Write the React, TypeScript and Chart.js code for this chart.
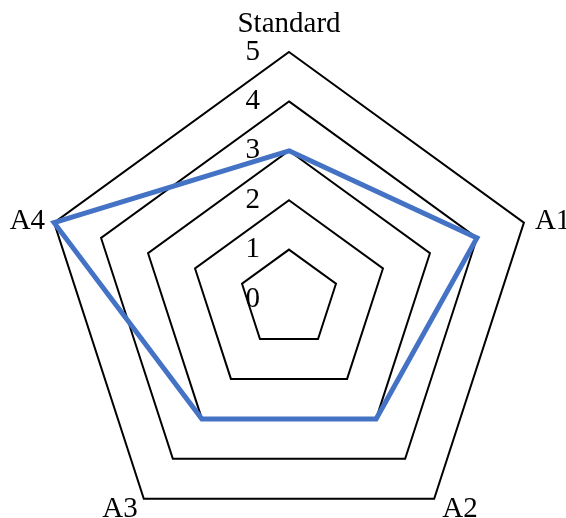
import React, { useEffect, useRef } from 'react';
import { Chart, registerables } from 'chart.js';

Chart.register(...registerables);

const categories = ['Standard', 'A1', 'A2', 'A3', 'A4'];
const seriesValues = [3, 4, 3, 3, 5];
const tickLabels = ['0', '1', '2', '3', '4', '5'];

const FONT = '"Liberation Serif", "Times New Roman", serif';
const FONT_SIZE = 29;

const tickLabelPlugin = {
  id: 'tickLabelsLeft',
  beforeDatasetsDraw(chart: any) {
    const s = chart.scales.r;
    const ctx = chart.ctx;
    ctx.save();
    ctx.font = `${FONT_SIZE}px ${FONT}`;
    ctx.fillStyle = '#000';
    ctx.textAlign = 'right';
    ctx.textBaseline = 'middle';
    s.ticks.forEach((t: any, i: number) => {
      const d = s.getDistanceFromCenterForValue(t.value);
      ctx.fillText(tickLabels[i] ?? t.label, s.xCenter - 29, s.yCenter - d);
    });
    ctx.restore();
  },
};

const pointLabelPlugin = {
  id: 'pointLabelsOuter',
  afterDraw(chart: any) {
    const s = chart.scales.r;
    const ctx = chart.ctx;
    const labels: string[] = chart.data.labels;
    ctx.save();
    ctx.font = `${FONT_SIZE}px ${FONT}`;
    ctx.fillStyle = '#000';
    ctx.textBaseline = 'alphabetic';
    labels.forEach((lab, i) => {
      const v = s.getPointPosition(i, s.drawingArea);
      let deg = (s.getIndexAngle(i) * 180) / Math.PI;
      deg = ((deg % 360) + 360) % 360;
      let x = v.x;
      let y = v.y;
      if (deg < 1 || deg > 359) {
        ctx.textAlign = 'center';
        y = v.y - 20;
      } else if (deg < 180) {
        ctx.textAlign = 'left';
        if (deg < 90) {
          x = v.x + 11;
          y = v.y + 6;
        } else {
          x = v.x + 8;
          y = v.y + 18;
        }
      } else {
        ctx.textAlign = 'right';
        if (deg > 270) {
          x = v.x - 9;
          y = v.y + 6;
        } else {
          x = v.x - 6;
          y = v.y + 18;
        }
      }
      ctx.fillText(lab, x, y);
    });
    ctx.restore();
  },
};

export default function App() {
  const ref = useRef<HTMLCanvasElement | null>(null);

  useEffect(() => {
    if (!ref.current) return;
    const chart = new Chart(ref.current, {
      type: 'radar',
      data: {
        labels: categories,
        datasets: [
          {
            data: seriesValues,
            borderColor: '#4472C4',
            borderWidth: 5,
            fill: false,
            pointRadius: 0,
            pointHoverRadius: 0,
            tension: 0,
            borderJoinStyle: 'miter',
          },
        ],
      },
      options: {
        responsive: false,
        animation: false,
        devicePixelRatio: 1,
        layout: { padding: { left: 42, right: 30, top: 52, bottom: 14 } },
        plugins: {
          legend: { display: false },
          title: { display: false },
          tooltip: { enabled: false },
        },
        scales: {
          r: {
            min: 0,
            max: 5,
            beginAtZero: true,
            ticks: { display: false, stepSize: 1 },
            pointLabels: { display: false },
            angleLines: { display: false },
            grid: { color: '#000000', lineWidth: 2 },
          },
        },
      },
      plugins: [tickLabelPlugin, pointLabelPlugin],
    } as any);
    return () => chart.destroy();
  }, []);

  return (
    <div
      style={{
        position: 'fixed',
        left: 0,
        top: 0,
        width: 566,
        height: 518,
        overflow: 'hidden',
        background: '#ffffff',
      }}
    >
      <canvas ref={ref} width={566} height={560} style={{ display: 'block' }} />
    </div>
  );
}
